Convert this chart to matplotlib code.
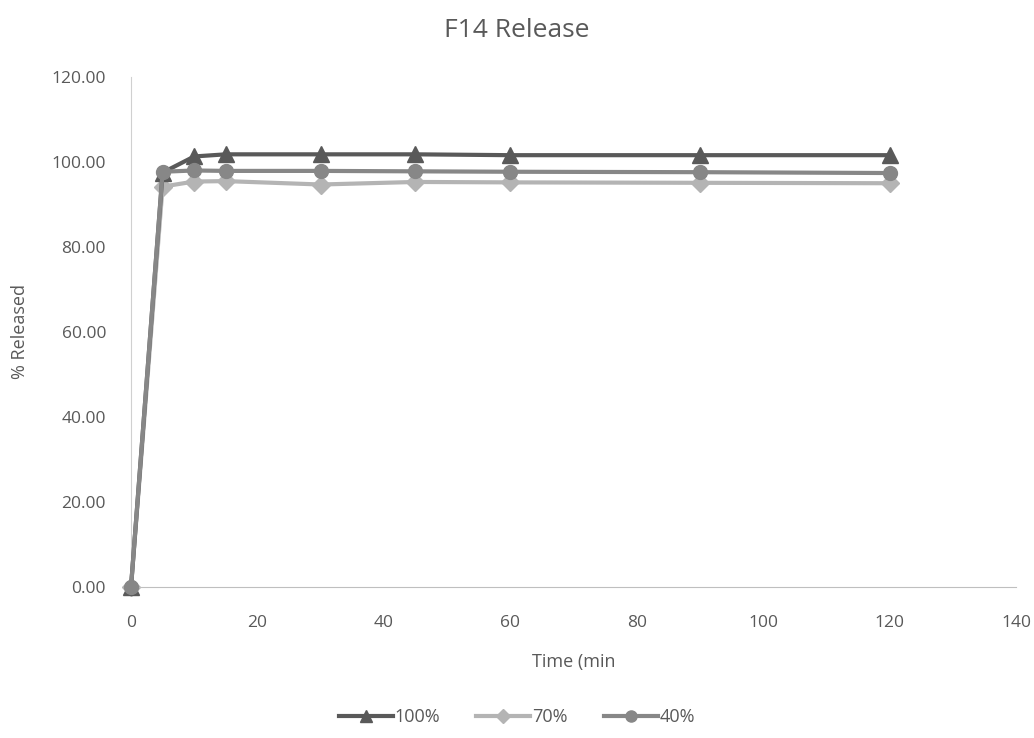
import matplotlib.pyplot as plt

# =======================
# DATA
# =======================
time_min = [0, 5, 10, 15, 30, 45, 60, 90, 120]
rel_100 = [0.0, 97.5, 101.3, 101.8, 101.8, 101.8, 101.6, 101.6, 101.6]
rel_70 = [0.0, 94.2, 95.4, 95.5, 94.7, 95.3, 95.2, 95.1, 95.0]
rel_40 = [0.0, 97.7, 98.0, 97.9, 97.9, 97.8, 97.7, 97.6, 97.4]

y_ticks = [0, 20, 40, 60, 80, 100, 120]
x_ticks = [0, 20, 40, 60, 80, 100, 120, 140]

plt.rcParams['font.family'] = ['Open Sans', 'DejaVu Sans']
TXT = '#595959'

fig = plt.figure(figsize=(10.34, 7.38), dpi=100)
ax = fig.add_axes([0.1267, 0.2046, 0.8559, 0.6911])

ax.plot(time_min, rel_100, color='#595959', lw=3, marker='^', ms=11, label='100%', zorder=3, clip_on=False)
ax.plot(time_min, rel_70, color='#b4b4b4', lw=3, marker='D', ms=9, label='70%', zorder=2, clip_on=False)
ax.plot(time_min, rel_40, color='#878787', lw=3, marker='o', ms=10, label='40%', zorder=4, clip_on=False)

ax.set_xlim(0, 140)
ax.set_ylim(0, 120)
ax.set_xticks(x_ticks)
ax.set_yticks(y_ticks)
ax.set_yticklabels([f"{v:.2f}" for v in y_ticks])
ax.tick_params(colors=TXT, labelsize=12.5, length=0)
ax.tick_params(axis='y', pad=18)
ax.tick_params(axis='x', pad=20)

for s in ['top', 'right']:
    ax.spines[s].set_visible(False)
ax.spines['left'].set_color('#d0d0d0')
ax.spines['bottom'].set_color('#bfbfbf')

ax.set_xlabel("Time (min", color=TXT, fontsize=13, labelpad=16)
ax.set_ylabel("% Released", color=TXT, fontsize=13, labelpad=16)
fig.suptitle("F14 Release", color=TXT, fontsize=19, y=0.975)

fig.legend(*ax.get_legend_handles_labels(), loc='center', bbox_to_anchor=(0.5, 0.028), ncol=3,
           frameon=False, fontsize=13, labelcolor=TXT, handlelength=3.0, markerscale=0.8,
           handletextpad=0.1, columnspacing=2.0)

fig.savefig("out.png", dpi=100)
